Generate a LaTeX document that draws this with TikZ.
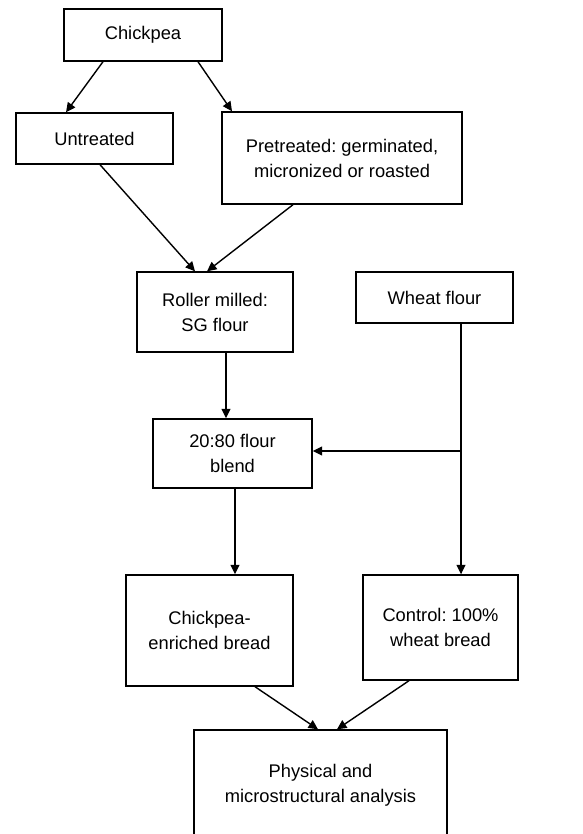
\documentclass[tikz,border=0pt]{standalone}
\usepackage{fontspec}
\setmainfont{Liberation Sans}
\usetikzlibrary{arrows.meta}
\begin{document}
\frenchspacing
\begin{tikzpicture}[x=1pt,y=-1pt,
  box/.style={draw,line width=1.4pt,rectangle,inner sep=0pt,align=center,
    font=\fontsize{18.3}{25}\selectfont},
  conn/.style={line width=1.4pt,-{Triangle[length=9.5pt,width=9pt]}}]
\useasboundingbox (0,0) rectangle (582,834);
\clip (0,0) rectangle (582,834);
\fill[white] (0,0) rectangle (582,834);
\node[box,minimum width=158pt,minimum height=52pt] (chick) at (143,35) {Chickpea};
\node[box,minimum width=157pt,minimum height=51pt] (untr) at (94.5,138.5) {Untreated};
\node[box,minimum width=240pt,minimum height=92pt] (pre) at (342,158) {Pretreated: germinated,\\micronized or roasted};
\node[box,minimum width=156pt,minimum height=80pt] (roll) at (215,312) {Roller milled:\\SG flour};
\node[box,minimum width=157pt,minimum height=51pt] (wheat) at (434.5,297.5) {Wheat flour};
\node[box,minimum width=159pt,minimum height=69pt] (blend) at (232.5,453.5) {20:80 flour\\blend};
\node[box,minimum width=167pt,minimum height=111pt] (enr) at (209.5,630.5) {Chickpea-\\enriched bread};
\node[box,minimum width=155pt,minimum height=105pt] (ctrl) at (440.5,627.5) {Control: 100\%\\wheat bread};
\node[box,minimum width=253pt,minimum height=110pt] (phys) at (320.5,785) {Physical and\\microstructural analysis};
\draw[conn] ([xshift=-40pt]chick.south) -- ([xshift=-28.5pt]untr.north);
\draw[conn] ([xshift=55pt]chick.south) -- ([xshift=-110pt]pre.north);
\draw[conn] ([xshift=5.5pt]untr.south) -- ([xshift=-20pt]roll.north);
\draw[conn] ([xshift=-49pt]pre.south) -- ([xshift=-8pt]roll.north);
\draw[conn] ([xshift=11pt]roll.south) -- ([xshift=11pt]roll.south |- blend.north);
\coordinate (wtop) at ([xshift=26.5pt]wheat.south);
\coordinate (j) at (wtop |- 0,451);
\draw[conn] (wtop) -- (wtop |- ctrl.north);
\draw[conn] (j) -- (j -| blend.east);
\draw[conn] ([xshift=2.5pt]blend.south) -- ([xshift=2.5pt]blend.south |- enr.north);
\draw[conn] ([xshift=45.5pt]enr.south) -- ([xshift=-2.5pt]phys.north);
\draw[conn] ([xshift=-31.5pt]ctrl.south) -- ([xshift=16.5pt]phys.north);
\end{tikzpicture}
\end{document}
